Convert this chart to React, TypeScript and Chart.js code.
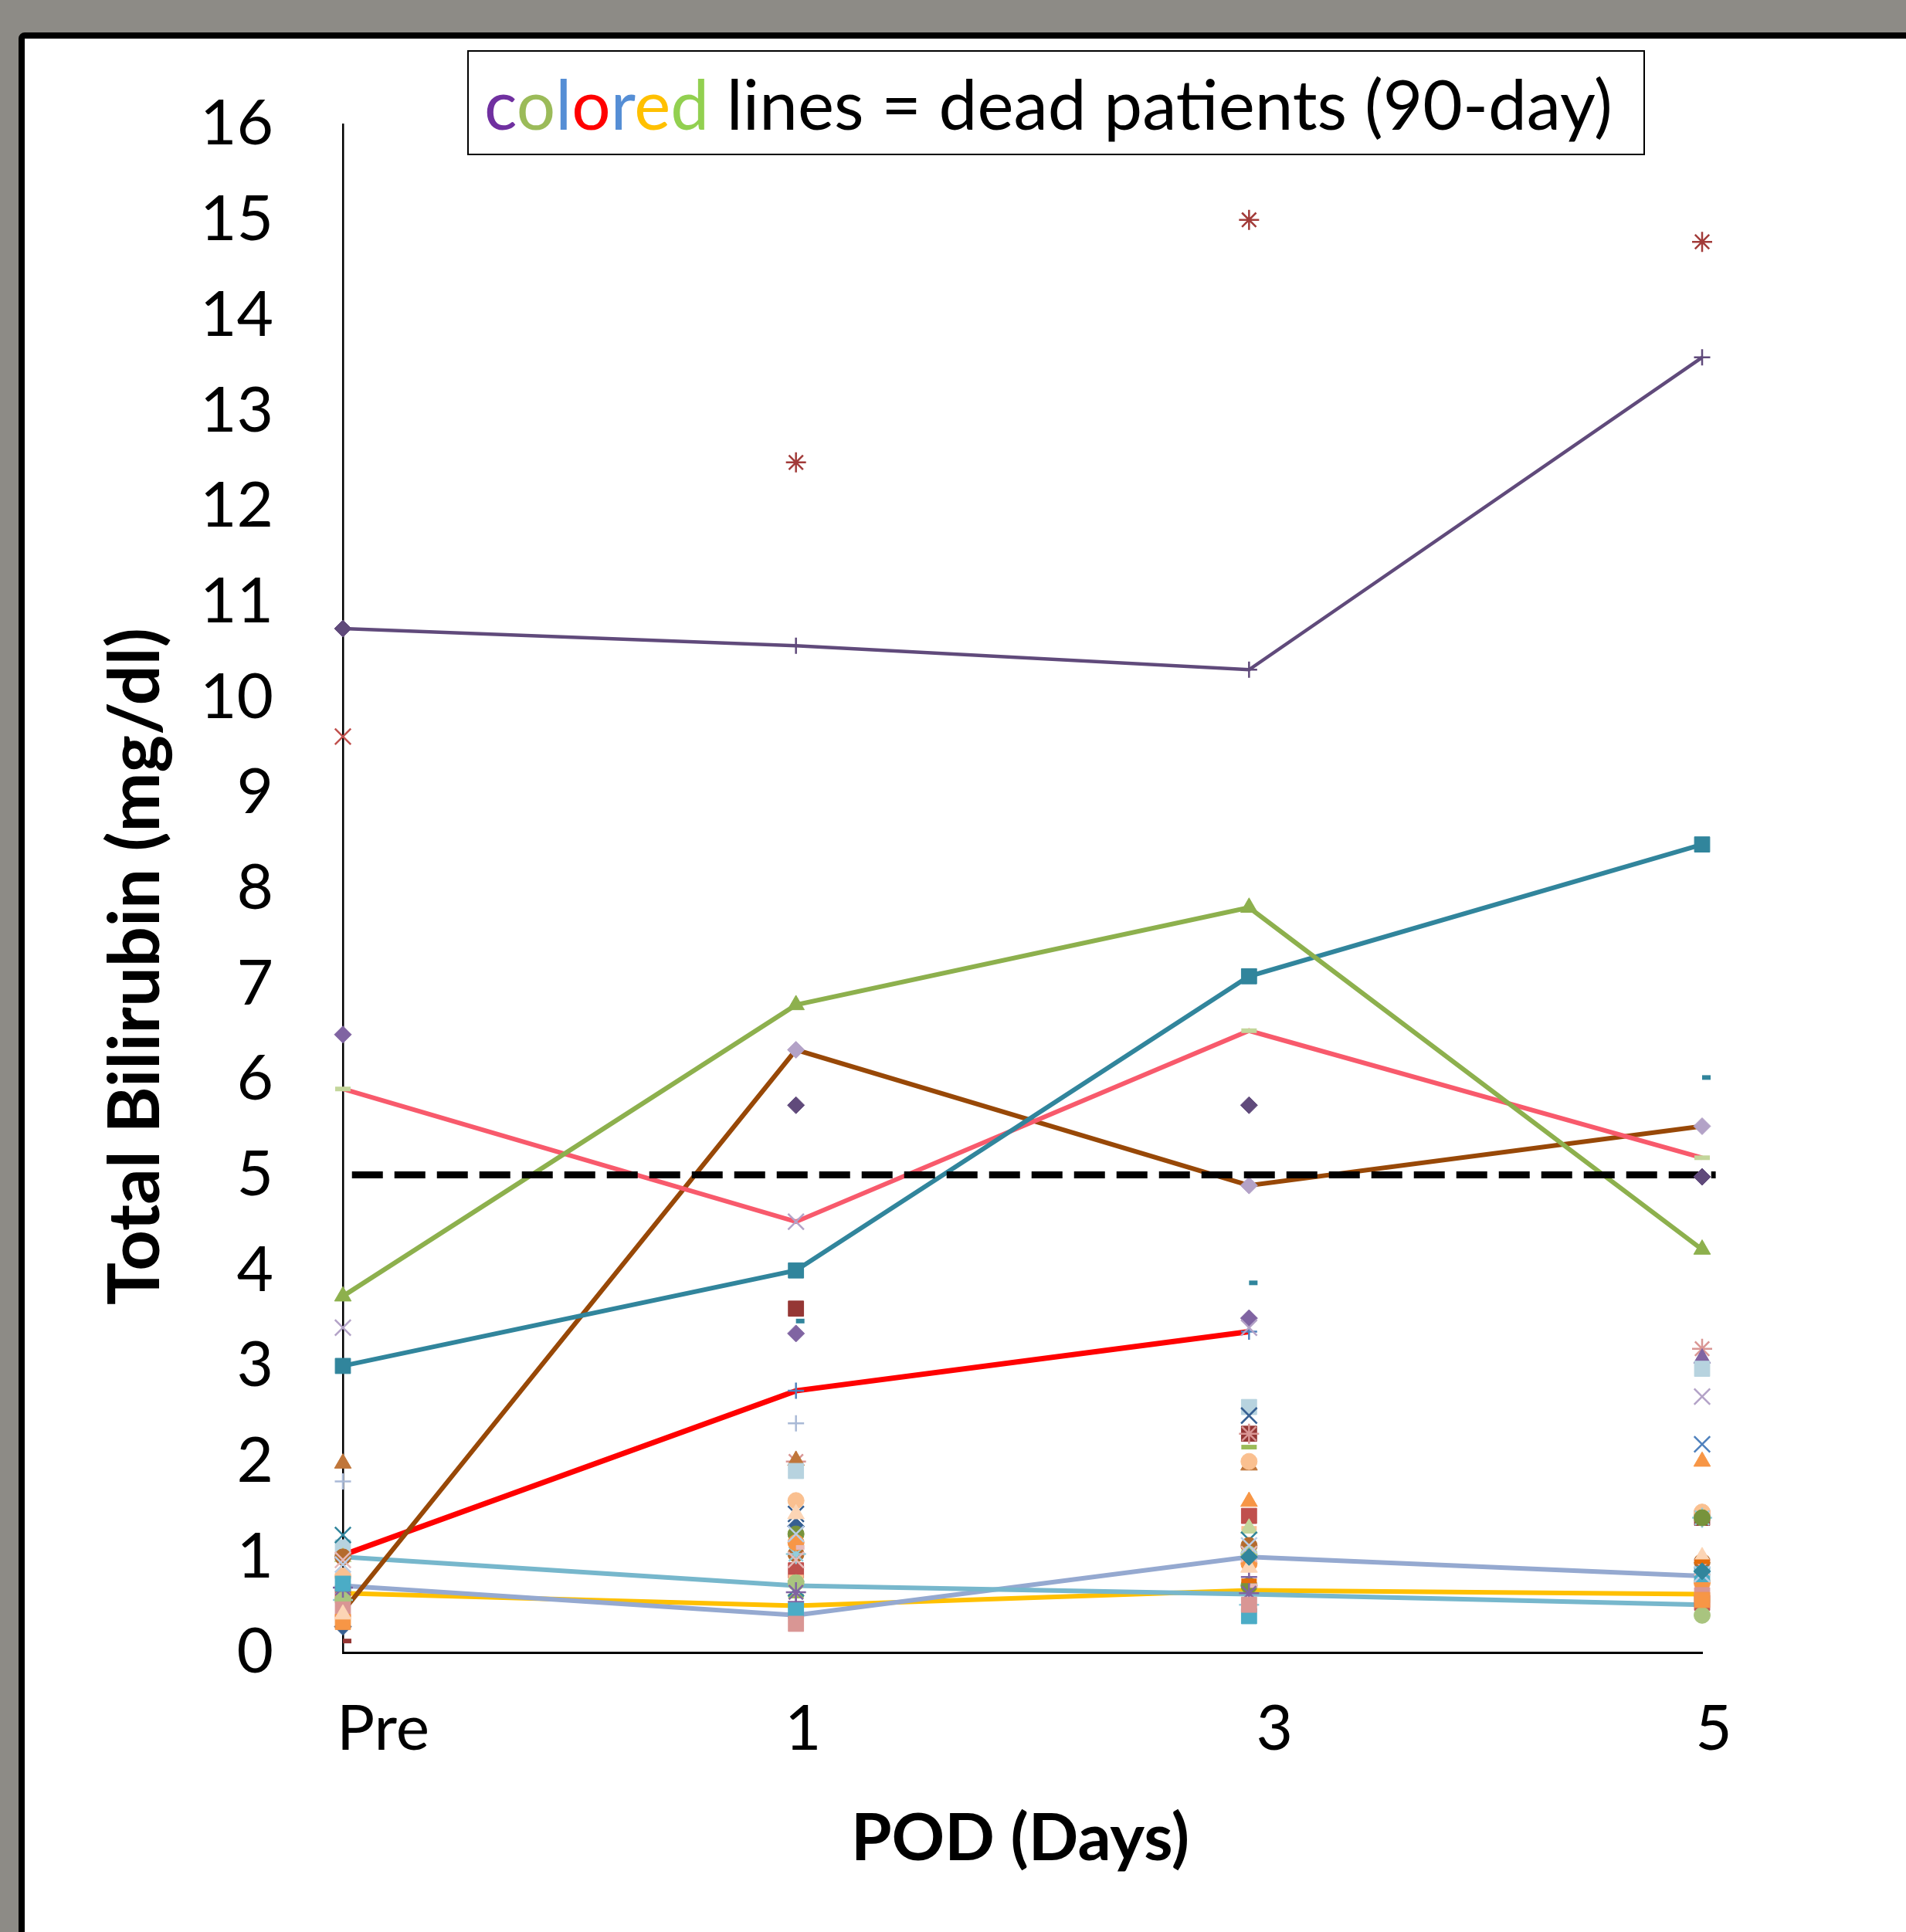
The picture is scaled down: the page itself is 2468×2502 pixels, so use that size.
import React, { useEffect, useRef } from 'react';
import { Chart, registerables } from 'chart.js';

Chart.register(...registerables);

// ---------- data ----------
const categories = ['Pre', '1', '3', '5'];
const yTitle = 'Total Bilirubin (mg/dl)';
const xTitle = 'POD (Days)';
const legendWord = 'colored';
const legendRest = ' lines = dead patients (90-day)';

// dead patients (90-day): coloured lines, values at Pre, POD1, POD3, POD5
const purpleValues = [10.72, 10.54, 10.29, 13.56];
const greenValues = [3.73, 6.78, 7.8, 4.22];
const tealValues = [3.0, 4.0, 7.08, 8.46];
const pinkValues = [5.9, 4.51, 6.51, 5.18];
const brownValues = [0.43, 6.31, 4.89, 5.51];
const redValues = [1.02, 2.74, 3.36, null];
const lightBlueValues = [1.0, 0.7, 0.61, 0.5];
const lavenderValues = [0.7, 0.39, 1.0, 0.8];
const yellowValues = [0.62, 0.49, 0.65, 0.61];

const thresholdValue = 5;
const thresholdSpan = [0.02, 3.03];

// surviving patients: markers only, values at Pre, POD1, POD3, POD5
const survivorValues: (number | null)[][] = [
  [null, 12.46, 15.0, 14.77],
  [9.59, null, null, null],
  [6.47, 3.34, 3.5, null],
  [null, 5.73, 5.73, 4.98],
  [3.4, 4.51, 3.4, 2.68],
  [null, 3.47, 3.87, 6.02],
  [null, 3.6, 2.29, 1.41],
  [null, 2.0, 2.29, 3.18],
  [null, null, null, 3.08],
  [1.79, 2.4, 1.1, 0.89],
  [1.98, 2.01, 1.96, null],
  [1.1, 1.9, 2.57, 2.97],
  [null, 1.45, 2.48, null],
  [null, null, null, 2.18],
  [null, null, 1.58, 2.0],
  [null, 0.59, 2.15, 1.4],
  [0.8, 1.59, 2.0, 1.47],
  [0.27, 1.32, null, null],
  [0.62, 0.86, 1.43, 0.52],
  [0.7, 0.79, 1.3, 0.95],
  [1.0, null, 1.3, 0.6],
  [1.23, 0.67, 1.18, null],
  [1.0, 1.03, 1.12, 0.95],
  [0.55, 1.03, 0.5, 1.41],
  [null, 1.24, 0.7, 1.41],
  [null, 1.15, 0.93, 0.73],
  [null, 1.1, 0.7, null],
  [0.55, 0.73, 1.03, 0.39],
  [0.68, 0.63, 0.62, null],
  [null, 0.53, 0.79, null],
  [0.72, 0.44, 0.38, 0.82],
  [0.45, 0.3, 0.5, 0.6],
  [0.32, null, null, 0.55],
  [0.4, 1.45, 0.89, 1.0],
  [0.97, 0.97, 1.03, 0.89],
  [0.92, 1.24, 1.12, 0.82],
  [0.12, null, null, null],
  [null, null, 0.75, 0.95],
  [null, null, 1.0, 0.85],
];

// ---------- styles (kept apart from the values) ----------
const survivorMarkers: [string, string][] = [
  ['star', '#A23B39'],
  ['crossRot', '#C0504D'],
  ['rectRot', '#8064A2'],
  ['rectRot', '#604A7B'],
  ['crossRot', '#B3A2C7'],
  ['dash', '#31859C'],
  ['rect', '#953735'],
  ['star', '#D99694'],
  ['triangle', '#8064A2'],
  ['cross', '#A9B9D6'],
  ['triangle', '#C0763A'],
  ['rect', '#B7D3DF'],
  ['crossRot', '#376092'],
  ['crossRot', '#4F81BD'],
  ['triangle', '#F79646'],
  ['line', '#9BBB59'],
  ['circle', '#FAC090'],
  ['rectRot', '#376092'],
  ['rect', '#C0504D'],
  ['line', '#FAC090'],
  ['triangle', '#C3D69B'],
  ['crossRot', '#31859C'],
  ['circle', '#B46B2E'],
  ['star', '#93CDDD'],
  ['circle', '#77933C'],
  ['circle', '#F79646'],
  ['dash', '#E6B9B8'],
  ['circle', '#A9C47F'],
  ['star', '#8064A2'],
  ['cross', '#8064A2'],
  ['rect', '#4BACC6'],
  ['rect', '#D99694'],
  ['rect', '#F79646'],
  ['triangle', '#FCD5B5'],
  ['crossRot', '#E6B9B8'],
  ['crossRot', '#B9CDE5'],
  ['dash', '#953735'],
  ['line', '#E46C0A'],
  ['rectRot', '#31859C'],
];

const RADIUS: Record<string, number> = {
  rect: 14, rectRot: 11, triangle: 12.5, circle: 10.5, cross: 10.5,
  crossRot: 14.5, star: 13, line: 10, dash: 11,
};
const BORDER: Record<string, number> = {
  rect: 1, rectRot: 1, triangle: 1, circle: 1, cross: 2.5,
  crossRot: 2.5, star: 2.5, line: 6, dash: 6,
};

const FONT = 'Lato';
const TICK_SIZE = 82;
// horizontal shift of each category label relative to its point column (style)
const xLabelShift = [52, 9, 33, 15];

type LineSpec = {
  values: (number | null)[];
  color: string;
  width: number;
  markers: (string | null)[];
  markerColors: string[];
};

const deadLines: LineSpec[] = [
  { values: yellowValues, color: '#FFC000', width: 6, markers: [null, null, null, null], markerColors: ['#FFC000'] },
  { values: lavenderValues, color: '#95A9D0', width: 6, markers: [null, null, null, null], markerColors: ['#95A9D0'] },
  { values: lightBlueValues, color: '#77B7CC', width: 6, markers: [null, null, null, null], markerColors: ['#77B7CC'] },
  { values: redValues, color: '#FF0000', width: 7, markers: [null, 'cross', 'cross'], markerColors: ['#4F81BD', '#4F81BD', '#4F81BD'] },
  { values: brownValues, color: '#984807', width: 6, markers: [null, 'rectRot', 'rectRot', 'rectRot'], markerColors: ['#B3A2C7', '#B3A2C7', '#B3A2C7', '#B3A2C7'] },
  { values: pinkValues, color: '#F85A6C', width: 6, markers: ['line', null, 'line', 'line'], markerColors: ['#C3D69B', '#C3D69B', '#C3D69B', '#C3D69B'] },
  { values: tealValues, color: '#31859C', width: 6, markers: ['rect', 'rect', 'rect', 'rect'], markerColors: ['#31859C', '#31859C', '#31859C', '#31859C'] },
  { values: greenValues, color: '#8DB04D', width: 6, markers: ['triangle', 'triangle', 'triangle', 'triangle'], markerColors: ['#8DB04D', '#8DB04D', '#8DB04D', '#8DB04D'] },
  { values: purpleValues, color: '#604A7B', width: 4.5, markers: ['rectRot', 'cross', 'cross', 'cross'], markerColors: ['#604A7B', '#604A7B', '#604A7B', '#604A7B'] },
];

const toPoints = (vals: (number | null)[]) =>
  vals.map((v, i) => (v == null ? null : { x: i, y: v })).filter((p) => p !== null) as { x: number; y: number }[];

const titlesPlugin = {
  id: 'axisTitles',
  afterDraw(chart: any) {
    const { ctx, chartArea } = chart;
    const xScale = chart.scales.x;
    // category labels
    ctx.save();
    ctx.fillStyle = '#000';
    ctx.textAlign = 'center';
    ctx.textBaseline = 'alphabetic';
    ctx.font = `${TICK_SIZE}px ${FONT}`;
    categories.forEach((c, i) => {
      ctx.fillText(c, xScale.getPixelForValue(i) + xLabelShift[i], chartArea.bottom + 126);
    });
    ctx.restore();
    // y title
    ctx.save();
    ctx.fillStyle = '#000';
    ctx.textAlign = 'center';
    ctx.textBaseline = 'middle';
    ctx.font = `bold 92px ${FONT}`;
    ctx.translate(176, (chartArea.top + chartArea.bottom) / 2 + 101);
    ctx.rotate(-Math.PI / 2);
    ctx.fillText(yTitle, 0, 0);
    ctx.restore();
    // x title
    ctx.save();
    ctx.fillStyle = '#000';
    ctx.textAlign = 'center';
    ctx.textBaseline = 'middle';
    ctx.font = `bold 85px ${FONT}`;
    ctx.fillText(xTitle, (chartArea.left + chartArea.right) / 2 - 3, 2382);
    ctx.restore();
  },
};

export default function App() {
  const ref = useRef<HTMLCanvasElement>(null);

  useEffect(() => {
    if (!ref.current) return;
    const datasets: any[] = [];

    survivorValues.forEach((vals, i) => {
      const [style, color] = survivorMarkers[i];
      datasets.push({
        type: 'line',
        label: `Survivor ${i + 1}`,
        data: toPoints(vals),
        showLine: false,
        pointStyle: style,
        pointRadius: RADIUS[style],
        pointBorderWidth: BORDER[style],
        pointBackgroundColor: color,
        pointBorderColor: color,
        backgroundColor: color,
        borderColor: color,
        clip: false,
        order: survivorValues.length - i,
      });
    });

    datasets.push({
      type: 'line',
      label: 'Threshold',
      data: thresholdSpan.map((x) => ({ x, y: thresholdValue })),
      borderColor: '#000',
      borderWidth: 9,
      borderDash: [40, 15],
      pointRadius: 0,
      clip: false,
      order: 100,
    });

    deadLines.forEach((l, i) => {
      datasets.push({
        type: 'line',
        label: `Dead ${i + 1}`,
        data: toPoints(l.values),
        borderColor: l.color,
        borderWidth: l.width,
        tension: 0,
        fill: false,
        pointStyle: l.markers.map((m) => m || 'circle'),
        pointRadius: l.markers.map((m) => (m ? RADIUS[m] : 0)),
        pointBorderWidth: l.markers.map((m) => (m ? BORDER[m] : 0)),
        pointBackgroundColor: l.markerColors,
        pointBorderColor: l.markerColors,
        clip: false,
        order: 200 + deadLines.length - i,
      });
    });

    const chart = new Chart(ref.current, {
      type: 'line',
      data: { datasets },
      options: {
        responsive: false,
        animation: false,
        devicePixelRatio: 1,
        events: [],
        layout: { padding: { left: 0, top: 161, right: 264, bottom: 0 } },
        plugins: {
          legend: { display: false },
          tooltip: { enabled: false },
          title: { display: false },
        },
        scales: {
          x: {
            type: 'linear',
            min: 0,
            max: 3,
            afterFit: (s: any) => { s.height = 362; },
            grid: { display: false, drawTicks: false },
            border: { display: true, color: '#000', width: 3 },
            ticks: { display: false, stepSize: 1 },
          },
          y: {
            type: 'linear',
            min: 0,
            max: 16,
            afterFit: (s: any) => { s.width = 444; },
            grid: { display: false, drawTicks: false },
            border: { display: true, color: '#000', width: 2.5 },
            ticks: {
              stepSize: 1,
              font: { family: FONT, size: TICK_SIZE },
              color: '#000',
              padding: 90,
            },
          },
        },
      } as any,
      plugins: [titlesPlugin],
    });

    if ((document as any).fonts && (document as any).fonts.ready) {
      (document as any).fonts.ready.then(() => chart.update());
    }
    return () => chart.destroy();
  }, []);

  const legendColors = ['#7030A0', '#9BBB59', '#558ED5', '#FF0000', '#558ED5', '#FFC000', '#92D050'];

  return (
    <div
      style={{
        position: 'fixed', left: 0, top: 0, width: 2468, height: 2502,
        overflow: 'hidden', background: '#8d8b86',
      }}
    >
      <div
        style={{
          position: 'absolute', left: 24, top: 42, width: 2600, height: 2600,
          border: '8px solid #000', borderRadius: 8, background: '#fff',
        }}
      />
      <canvas
        ref={ref}
        width={2468}
        height={2502}
        style={{ position: 'absolute', left: 0, top: 0, width: 2468, height: 2502 }}
      />
      <div
        style={{
          position: 'absolute', left: 605, top: 65, width: 1525, height: 136,
          boxSizing: 'border-box', border: '2.5px solid #000', background: '#fff',
          display: 'flex', alignItems: 'center', paddingLeft: 20,
          fontFamily: FONT, fontSize: 89, lineHeight: 1, whiteSpace: 'nowrap', color: '#000',
        }}
      >
        <span>
          {legendWord.split('').map((ch, i) => (
            <span key={i} style={{ color: legendColors[i % legendColors.length] }}>{ch}</span>
          ))}
          {legendRest}
        </span>
      </div>
    </div>
  );
}
